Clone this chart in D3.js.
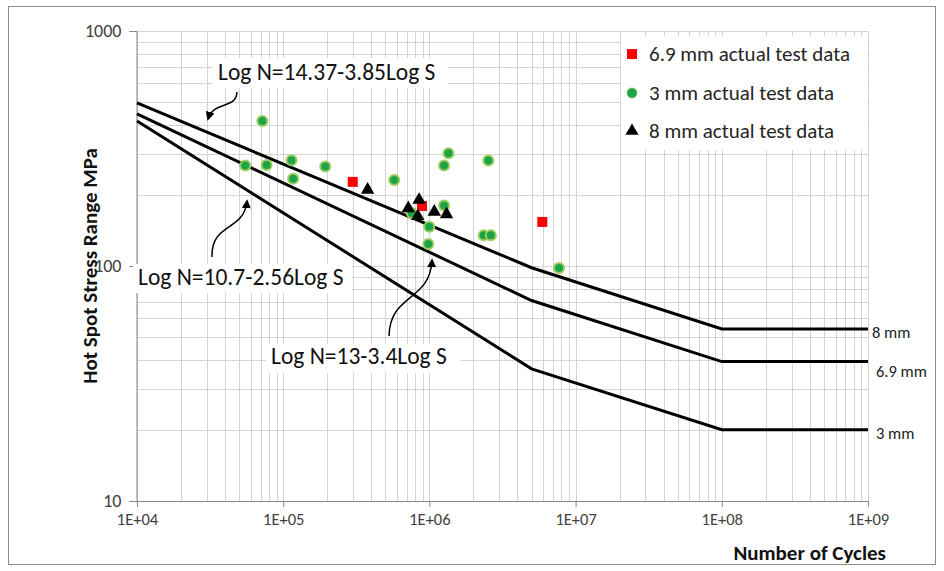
<!DOCTYPE html>
<html><head><meta charset="utf-8">
<script src="https://cdn.jsdelivr.net/npm/d3@7"></script>
<style>
html,body{margin:0;padding:0;background:#fff;}
svg{display:block;font-family:Carlito, Calibri, Lato, "Open Sans", sans-serif;}
</style></head>
<body>
<svg id="chart" width="944" height="571"></svg>
<script>
// ---- data ----
const xDomain = [1e4, 1e9];
const yDomain = [10, 1000];
const xTickValues = [1e4, 1e5, 1e6, 1e7, 1e8, 1e9];
const yTickValues = [10, 100, 1000];

// S-N design curves (breakpoints)
const curveCycles = [1e4, 5e6, 1e8, 1e9];
const curve8mm  = [494, 98.3, 54.0, 54.0];
const curve69mm = [444, 71.3, 39.2, 39.2];
const curve3mm  = [414, 36.5, 20.1, 20.1];
const curveNames = ["8 mm", "6.9 mm", "3 mm"];

// test data
const red69Cycles = [2.99e5, 8.9e5, 5.92e6];
const red69Stress = [228, 180, 154];

const green3Cycles = [7.2e4, 5.5e4, 7.7e4, 1.14e5, 1.17e5, 1.94e5, 5.75e5, 1.26e6, 1.35e6, 1.26e6, 9.98e5, 9.83e5, 7.57e5, 2.53e6, 2.35e6, 2.63e6, 7.7e6];
const green3Stress = [414, 268, 269, 282, 235, 265, 232, 268, 302, 181, 147, 124, 168, 281, 135, 135, 98];

const black8Cycles = [3.78e5, 7.17e5, 8.5e5, 8.33e5, 1.08e6, 1.31e6];
const black8Stress = [211, 176, 191, 163, 170, 166];

const legendLabels = ["6.9 mm actual test data", "3 mm actual test data", "8 mm actual test data"];
const equationLabels = ["Log N=14.37-3.85Log S", "Log N=10.7-2.56Log S", "Log N=13-3.4Log S"];
const yTitle = "Hot Spot Stress Range MPa";
const xTitle = "Number of Cycles";

// ---- drawing ----
const svg = d3.select("#chart");
const L = 137, R = 868, T = 31, B = 501;
const x = d3.scaleLog().domain(xDomain).range([L, R]);
const y = d3.scaleLog().domain(yDomain).range([B, T]);

// outer border
svg.append("rect").attr("x", 8.5).attr("y", 6.5).attr("width", 927).attr("height", 558)
  .attr("fill", "#fff").attr("stroke", "#8c8c8c").attr("stroke-width", 1);

// gridlines
const xGrid = [];
for (let e = 4; e <= 8; e++) for (let m = 1; m <= 9; m++) xGrid.push(m * Math.pow(10, e));
xGrid.push(1e9);
const yGrid = [];
for (let e = 1; e <= 2; e++) for (let m = 1; m <= 9; m++) yGrid.push(m * Math.pow(10, e));
yGrid.push(1000);

const grid = svg.append("g");
grid.selectAll("line.v").data(xGrid).join("line")
  .attr("x1", d => Math.round(x(d)) + 0.5).attr("x2", d => Math.round(x(d)) + 0.5)
  .attr("y1", T).attr("y2", B)
  .attr("stroke", "#d4d4d4").attr("stroke-width", 1);
grid.selectAll("line.h").data(yGrid).join("line")
  .attr("y1", d => Math.round(y(d)) + 0.5).attr("y2", d => Math.round(y(d)) + 0.5)
  .attr("x1", L).attr("x2", R)
  .attr("stroke", "#d4d4d4").attr("stroke-width", 1);

// axes
const fmtX = d => "1E+" + String(Math.round(Math.log10(d))).padStart(2, "0");
const xAxis = svg.append("g").attr("transform", `translate(0,${B})`)
  .call(d3.axisBottom(x).tickValues(xTickValues).tickFormat(fmtX).tickSize(6).tickPadding(6));
const yAxis = svg.append("g").attr("transform", `translate(${L - 0.5},0)`)
  .call(d3.axisLeft(y).tickValues(yTickValues).tickFormat(d3.format("d")).tickSize(7).tickPadding(8));
[xAxis, yAxis].forEach(a => {
  a.select(".domain").attr("stroke", "#868686");
  a.selectAll(".tick line").attr("stroke", "#868686");
  a.selectAll(".tick text").attr("fill", "#404040")
    .attr("font-family", "Carlito, Calibri, Lato, sans-serif");
});
xAxis.selectAll(".tick text").attr("font-size", 16.5);
yAxis.selectAll(".tick text").attr("font-size", 18);

// curves
const line = d3.line().x(d => x(d[0])).y(d => y(d[1]));
const curves = [curve8mm, curve69mm, curve3mm];
svg.append("g").selectAll("path").data(curves).join("path")
  .attr("d", c => line(curveCycles.map((n, i) => [n, c[i]])))
  .attr("fill", "none").attr("stroke", "#000").attr("stroke-width", 3);

// curve labels at right
const labelDy = [3, 10, 3];
svg.append("g").selectAll("text").data(curves).join("text")
  .attr("x", (c, i) => R + (i === 0 ? 4 : 8))
  .attr("y", (c, i) => y(c[c.length - 1]) + labelDy[i])
  .attr("dy", "0.35em")
  .attr("font-size", 16.5).attr("fill", "#222")
  .text((c, i) => curveNames[i]);

// data points
const greenPts = green3Cycles.map((n, i) => [n, green3Stress[i]]);
const redPts = red69Cycles.map((n, i) => [n, red69Stress[i]]);
const blackPts = black8Cycles.map((n, i) => [n, black8Stress[i]]);

svg.append("g").selectAll("circle").data(greenPts).join("circle")
  .attr("cx", d => x(d[0])).attr("cy", d => y(d[1])).attr("r", 5)
  .attr("fill", "#1ba548").attr("stroke", "#9ccc5c").attr("stroke-width", 2);
svg.append("g").selectAll("path").data(redPts).join("path")
  .attr("transform", d => `translate(${x(d[0])},${y(d[1])})`)
  .attr("d", d3.symbol(d3.symbolSquare, 100)).attr("fill", "#ff0000");
svg.append("g").selectAll("path").data(blackPts).join("path")
  .attr("transform", d => `translate(${x(d[0])},${y(d[1])})`)
  .attr("d", d3.symbol(d3.symbolTriangle, 78)).attr("fill", "#000");

// legend
const lg = svg.append("g");
lg.append("rect").attr("x", 621).attr("y", 36).attr("width", 246).attr("height", 114).attr("fill", "#fff");
const legendY = [54, 93, 131];
const legendSym = [
  g => g.append("path").attr("d", d3.symbol(d3.symbolSquare, 100)).attr("fill", "#ff0000"),
  g => g.append("circle").attr("r", 5).attr("fill", "#1ba548").attr("stroke", "#7cc060").attr("stroke-width", 0.8),
  g => g.append("path").attr("d", d3.symbol(d3.symbolTriangle, 75)).attr("fill", "#000")
];
legendLabels.forEach((t, i) => {
  const g = lg.append("g").attr("transform", `translate(632,${legendY[i]})`);
  legendSym[i](g);
  lg.append("text").attr("x", 649).attr("y", legendY[i]).attr("dy", "0.35em")
    .attr("font-size", 21).attr("fill", "#262626").text(t);
});

// annotations
svg.append("defs").append("marker").attr("id", "ah").attr("viewBox", "0 0 10 10")
  .attr("refX", 8).attr("refY", 5).attr("markerWidth", 6).attr("markerHeight", 6)
  .attr("orient", "auto").append("path").attr("d", "M0,0 L10,5 L0,10 Z").attr("fill", "#000");

const ann = svg.append("g");
const boxes = [
  {x: 212, y: 58, w: 236, h: 30, tx: 218, ty: 80},
  {x: 133, y: 264, w: 219, h: 29, tx: 138, ty: 285},
  {x: 266, y: 344, w: 195, h: 29, tx: 271, ty: 364}
];
const arrowPaths = [
  "M237,92 C236,110 214,100 208,119",
  "M212,257 C211,222 244,232 247,201",
  "M389,336 C390,293 430,302 432,260"
];
arrowPaths.forEach(p => ann.append("path").attr("d", p).attr("fill", "none")
  .attr("stroke", "#000").attr("stroke-width", 1.5).attr("marker-end", "url(#ah)"));
boxes.forEach((b, i) => {
  ann.append("rect").attr("x", b.x).attr("y", b.y).attr("width", b.w).attr("height", b.h).attr("fill", "#fff");
  ann.append("text").attr("x", b.tx).attr("y", b.ty).attr("font-size", 23.5).attr("fill", "#111")
    .text(equationLabels[i]);
});

// axis titles
svg.append("text").attr("transform", "translate(97,266) rotate(-90)")
  .attr("text-anchor", "middle").attr("font-weight", "bold").attr("font-size", 21).attr("fill", "#111")
  .text(yTitle);
svg.append("text").attr("x", 886).attr("y", 560).attr("text-anchor", "end")
  .attr("font-weight", "bold").attr("font-size", 21).attr("fill", "#111").text(xTitle);
</script>
</body></html>
